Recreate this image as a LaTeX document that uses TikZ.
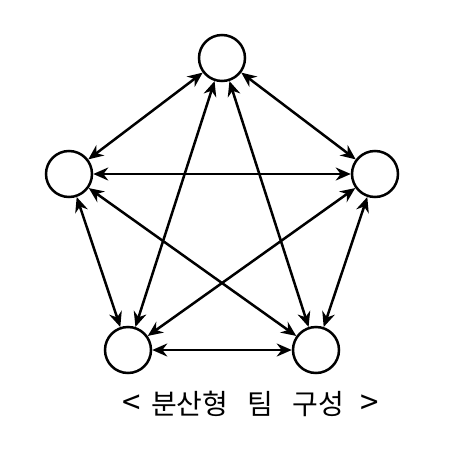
\documentclass[tikz,border=0pt]{standalone}
\usepackage{fontspec}
\newfontfamily\krfont{Noto Sans CJK KR}
\usetikzlibrary{arrows.meta}
\tikzset{
    member_node/.style = {circle, draw=black, line width=2.5pt, minimum size=46pt, inner sep=0pt},
    link/.style = {line width=2.5pt, {Stealth[length=15pt,width=13pt]}-{Stealth[length=15pt,width=13pt]}},
    caption_node/.style = {font=\krfont\fontsize{28}{32}\selectfont, inner sep=0pt}
}
\newcommand{\bracketsize}[1]{{\fontsize{33}{32}\selectfont #1}}

\begin{document}
\begin{tikzpicture}[x=1pt, y=-1pt]
    \useasboundingbox (0,0) rectangle (458,453);

    % team members
    \node [member_node] (top) at (222,58) {};
    \node [member_node] (left) at (69,174) {};
    \node [member_node] (right) at (375,174) {};
    \node [member_node] (bot_left) at (128,350) {};
    \node [member_node] (bot_right) at (316,350) {};

    % every member talks to every other one
    \draw [link] (top) -- (left);
    \draw [link] (top) -- (right);
    \draw [link] (top) -- (bot_left);
    \draw [link] (top) -- (bot_right);
    \draw [link] (left) -- (right);
    \draw [link] (left) -- (bot_left);
    \draw [link] (left) -- (bot_right);
    \draw [link] (right) -- (bot_left);
    \draw [link] (right) -- (bot_right);
    \draw [link] (bot_left) -- (bot_right);

    \node [caption_node] (caption) at (251,404) {\bracketsize{<}\hspace{10pt}분산형\hspace{19pt}팀\hspace{19pt}구성\hspace{17pt}\bracketsize{>}};
\end{tikzpicture}
\end{document}
